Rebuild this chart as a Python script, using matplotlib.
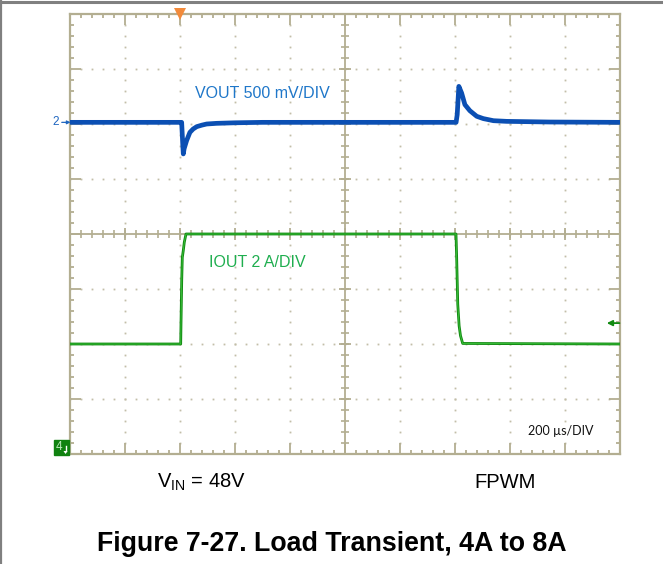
import matplotlib
matplotlib.use("Agg")
import matplotlib.pyplot as plt
from matplotlib.lines import Line2D
from matplotlib.patches import Rectangle, Polygon
import numpy as np

plt.rcParams['font.family'] = ['Liberation Sans', 'DejaVu Sans']
plt.rcParams['mathtext.fontset'] = 'custom'
plt.rcParams['mathtext.rm'] = 'Liberation Sans'

# ---------------- data ----------------
# time axis in microseconds (200 us/div, trigger at t = 0)
t_vout = [-400, 0, 6, 10, 12, 15, 24, 36, 48, 61, 80, 97, 133, 200, 300,
          1000, 1004, 1008, 1014, 1024, 1036, 1054, 1079, 1103, 1140, 1188, 1345, 1600]
# VOUT deviation from nominal, mV (500 mV/div)
vout_mv = [0, 0, 0, -200, -287, -240, -166, -91, -60, -39, -25, -15, -9, -4, 0,
           0, 0, 70, 327, 267, 161, 106, 55, 34, 15, 9, 3, 0]

t_iout = [-400, 2.5, 3.6, 6.2, 8.4, 12, 15.6, 21.8, 1003.6, 1006, 1010, 1015, 1020, 1028, 1600]
# IOUT, A (2 A/div)
iout_a = [4.0, 4.0, 4.73, 6.3, 7.15, 7.4, 7.7, 8.0, 8.0, 7.15, 5.45, 4.66, 4.3, 4.02, 4.0]

vout_label = "VOUT 500 mV/DIV"
iout_label = "IOUT 2 A/DIV"
time_label = "200 \u00b5s/DIV"
cond_left = r"$\mathregular{V_{IN}}$ = 48V"
cond_right = "FPWM"
title = "Figure 7-27. Load Transient, 4A to 8A"

VOUT_MV_PER_DIV = 500.0
IOUT_A_PER_DIV = 2.0
VOUT_OFFSET_DIV = 2.03
IOUT_OFFSET_DIV = -4.0
TRIG_LEVEL_DIV = -1.62

# ---------------- figure ----------------
W, H = 663, 564
fig = plt.figure(figsize=(W / 100, H / 100), dpi=100)

def fx(px):
    return px / W

def fy(py):
    return 1 - py / H

ax = fig.add_axes([fx(70), fy(454), 550 / W, 440 / H])
ax.set_xlim(-400, 1600)
ax.set_ylim(-4, 4)

grid_c = '#b3ae91'
dot_c = '#c2bea8'

for s in ax.spines.values():
    s.set_color(grid_c)
    s.set_linewidth(1.6)

ax.xaxis.set_major_locator(matplotlib.ticker.MultipleLocator(200))
ax.xaxis.set_minor_locator(matplotlib.ticker.MultipleLocator(40))
ax.yaxis.set_major_locator(matplotlib.ticker.MultipleLocator(1))
ax.yaxis.set_minor_locator(matplotlib.ticker.MultipleLocator(0.2))
ax.tick_params(which='both', direction='in', top=True, right=True,
               labelleft=False, labelbottom=False, color=grid_c, width=1.3)
ax.tick_params(which='major', length=8)
ax.tick_params(which='minor', length=3.2)

# dotted graticule
xmaj = np.arange(-200, 1600, 200)
ymaj = np.arange(-3, 4, 1)
xmin_pts = np.arange(-400, 1601, 40)
ymin_pts = np.arange(-4, 4.01, 0.2)
for xv in xmaj:
    if xv == 600:
        continue
    ax.plot(np.full_like(ymin_pts, xv), ymin_pts, ls='none', marker='s',
            ms=1.3, mew=0, color=dot_c, zorder=1)
for yv in ymaj:
    if yv == 0:
        continue
    ax.plot(xmin_pts, np.full_like(xmin_pts, yv, dtype=float), ls='none', marker='s',
            ms=1.3, mew=0, color=dot_c, zorder=1)

# center crosshair with ticks
ax.axhline(0, color=grid_c, lw=1.3, zorder=1)
ax.axvline(600, color=grid_c, lw=1.3, zorder=1)
ax.plot(xmin_pts, np.zeros_like(xmin_pts, dtype=float), ls='none', marker='|',
        ms=6, mew=1.2, color=grid_c, zorder=1)
ax.plot(xmaj, np.zeros_like(xmaj, dtype=float), ls='none', marker='|',
        ms=9, mew=1.3, color=grid_c, zorder=1)
ax.plot(np.full_like(ymin_pts, 600), ymin_pts, ls='none', marker='_',
        ms=6, mew=1.2, color=grid_c, zorder=1)
ax.plot(np.full_like(ymaj, 600, dtype=float), ymaj, ls='none', marker='_',
        ms=9, mew=1.3, color=grid_c, zorder=1)

# traces
vout_y = VOUT_OFFSET_DIV + np.array(vout_mv) / VOUT_MV_PER_DIV
iout_y = IOUT_OFFSET_DIV + np.array(iout_a) / IOUT_A_PER_DIV
ax.plot(t_vout, vout_y, color='#0b4fb3', lw=3.4, solid_joinstyle='round', zorder=3)
ax.plot(t_iout, iout_y, color='#128a12', lw=2.0, zorder=3)
ax.plot(t_iout, iout_y, color='#3cc43c', lw=0.6, zorder=3)

# labels inside
fig.text(fx(195), fy(93), vout_label, color='#1f77c9', fontsize=11.5,
         ha='left', va='center')
fig.text(fx(209), fy(262), iout_label, color='#1fae4f', fontsize=11.5,
         ha='left', va='center')
fig.text(fx(528), fy(431), time_label, color='#111111', fontsize=9.0,
         family=['Lato', 'DejaVu Sans'], ha='left', va='center')

# trigger position marker
ax.plot([0], [4], marker='v', ms=8, color='#f28a3a', mew=0, clip_on=False, zorder=5)

# channel 2 marker
fig.text(fx(55.5), fy(122), "2", color='#1f66c0', fontsize=8.5, ha='center', va='center')
ax.annotate('', xy=(-398, VOUT_OFFSET_DIV), xytext=(-430, VOUT_OFFSET_DIV),
            arrowprops=dict(arrowstyle='-|>', color='#1f66c0', lw=0.9,
                            mutation_scale=5, shrinkA=0, shrinkB=0),
            annotation_clip=False)

# channel 4 marker (offscreen below)
fig.add_artist(Rectangle((fx(54), fy(455)), 15 / W, 15 / H, transform=fig.transFigure,
                         facecolor='#108210', edgecolor='#108210', zorder=5))
fig.text(fx(59), fy(447.5), "4", color='#b8e8b8', fontsize=8.5, ha='center', va='center',
         zorder=6)
fig.add_artist(Polygon([(fx(63.5), fy(451)), (fx(67.5), fy(451)), (fx(65.5), fy(454))],
                       closed=True, transform=fig.transFigure, facecolor='white',
                       edgecolor='none', zorder=6))
fig.add_artist(Line2D([fx(65.5), fx(65.5)], [fy(446), fy(451)], transform=fig.transFigure,
                      color='white', lw=1, zorder=6))

# trigger level marker
ax.annotate('', xy=(1552, TRIG_LEVEL_DIV), xytext=(1598, TRIG_LEVEL_DIV),
            arrowprops=dict(arrowstyle='-|>', color='#128a12', lw=1.3,
                            mutation_scale=8, shrinkA=0, shrinkB=0),
            annotation_clip=False)

# conditions and title
fig.text(fx(201), fy(488), cond_left, fontsize=14.5, ha='center', va='baseline')
fig.text(fx(505), fy(488), cond_right, fontsize=14.5, ha='center', va='baseline')
fig.text(fx(332), fy(551), title, fontsize=19.3, fontweight='bold', ha='center',
         va='baseline')

# page frame lines
fig.add_artist(Line2D([0, 1], [fy(1.5), fy(1.5)], transform=fig.transFigure,
                      color='#808080', lw=2.2))
fig.add_artist(Line2D([fx(0.8), fx(0.8)], [0, 1], transform=fig.transFigure,
                      color='#808080', lw=1.6))

fig.savefig('out.png', dpi=100)
